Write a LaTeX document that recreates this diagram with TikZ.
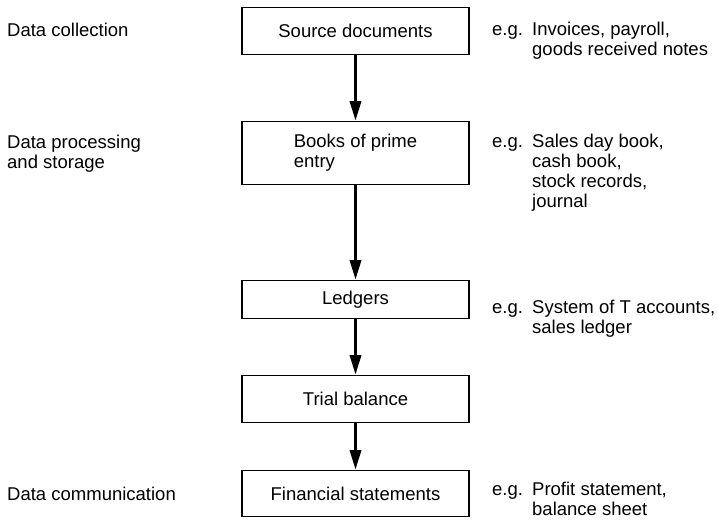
\documentclass[tikz,border=0pt]{standalone}
\usepackage{fontspec}
\setmainfont{Liberation Sans}
\usetikzlibrary{arrows.meta}
\newcommand{\stack}[1]{\begin{tabular}[t]{@{}l@{}}#1\end{tabular}}
\begin{document}
\begin{tikzpicture}[x=1pt,y=-1pt,
  font=\fontsize{18.5}{20}\selectfont,
  stage/.style={draw,line width=1.3pt,minimum width=227pt,inner sep=0pt,anchor=north,align=left},
  flow/.style={line width=3.5pt,-{Triangle[length=20pt,width=11pt]}},
  lbl/.style={anchor=base west,inner sep=0pt}]
\useasboundingbox (0,0) rectangle (718,522);

% process boxes
\node[stage,minimum height=47pt] (src) at (355.5,7) {Source documents};
\node[stage,minimum height=63pt] (prime) at (355.5,121) {Books of prime\\entry};
\node[stage,minimum height=38pt] (led) at (355.5,280) {Ledgers};
\node[stage,minimum height=47pt] (trial) at (355.5,375) {Trial balance};
\node[stage,minimum height=46pt] (fin) at (355.5,470) {Financial statements};

% arrows between stages
\draw[flow] (src) -- (prime);
\draw[flow] (prime) -- (led);
\draw[flow] (led) -- (trial);
\draw[flow] (trial) -- (fin);

% stage names on the left
\node[lbl] (l1) at (7,36.7) {Data collection};
\node[lbl] (l2) at (7,148) {\stack{Data processing\\and storage}};
\node[lbl] (l3) at (7,500) {Data communication};

% examples on the right
\node[lbl] (e1) at (492,35) {e.g.};
\node[lbl] (x1) at (532,35) {\stack{Invoices, payroll,\\goods received notes}};
\node[lbl] (e2) at (492,147) {e.g.};
\node[lbl] (x2) at (532,147) {\stack{Sales day book,\\cash book,\\stock records,\\journal}};
\node[lbl] (e3) at (492,313) {e.g.};
\node[lbl] (x3) at (532,313) {\stack{System of T accounts,\\sales ledger}};
\node[lbl] (e5) at (492,495) {e.g.};
\node[lbl] (x5) at (532,495) {\stack{Profit statement,\\balance sheet}};
\end{tikzpicture}
\end{document}
